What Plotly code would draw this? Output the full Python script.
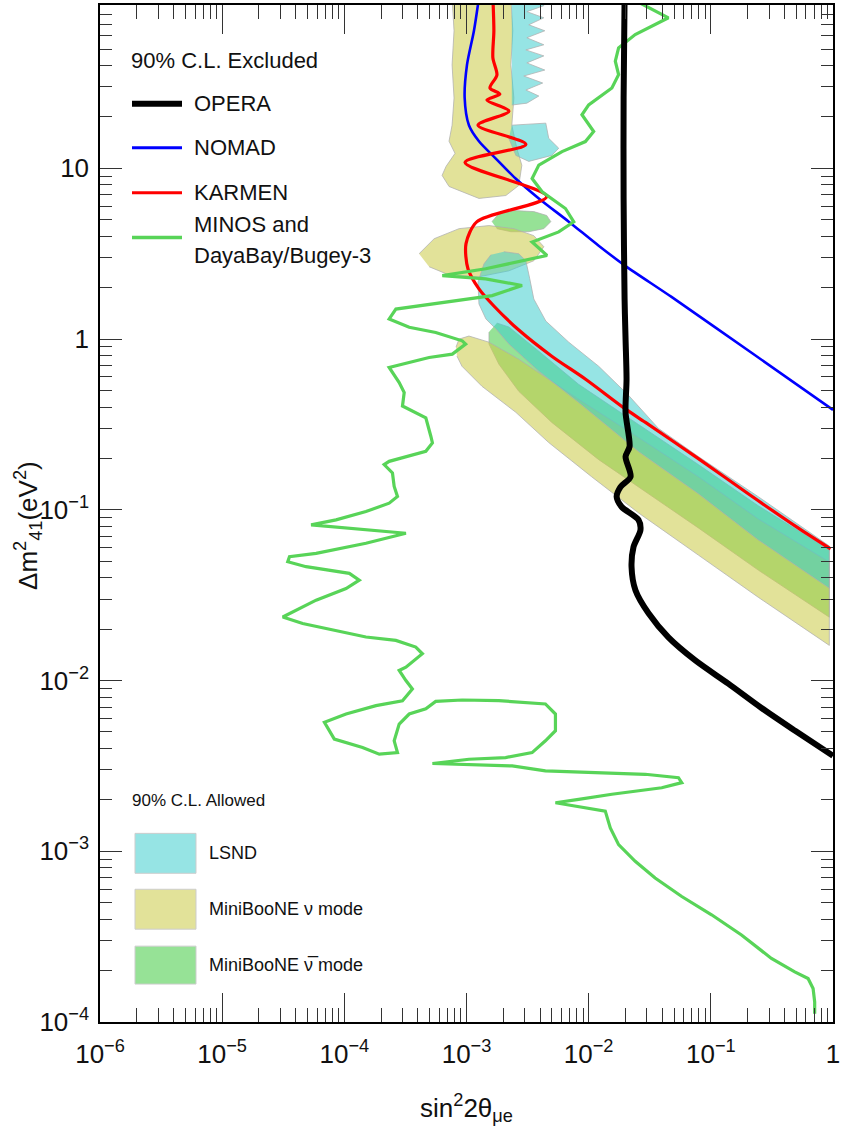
import numpy as np
import plotly.graph_objects as go

FONT = "Liberation Sans, Arial, Helvetica, sans-serif"

# ---------------- axis ticks ----------------
x_tick_vals = [1e-6, 1e-5, 1e-4, 1e-3, 1e-2, 1e-1, 1]
x_tick_text = ["10<sup>−6</sup>", "10<sup>−5</sup>", "10<sup>−4</sup>", "10<sup>−3</sup>",
               "10<sup>−2</sup>", "10<sup>−1</sup>", "1"]
y_tick_vals = [1e-4, 1e-3, 1e-2, 1e-1, 1, 10]
y_tick_text = ["10<sup>−4</sup>", "10<sup>−3</sup>", "10<sup>−2</sup>", "10<sup>−1</sup>", "1", "10"]
x_minor_vals = [d * m for d in [1e-6, 1e-5, 1e-4, 1e-3, 1e-2, 1e-1] for m in range(2, 10)]
y_minor_vals = [d * m for d in [1e-4, 1e-3, 1e-2, 1e-1, 1, 10] for m in range(2, 10)]

# ---------------- data: log10(sin^2 2theta), log10(dm^2 / eV^2) ----------------
# OPERA 90% CL exclusion
opera_lx = [-1.706, -1.714, -1.714, -1.706, -1.698, -1.690, -1.698, -1.665, -1.698, -1.657,
            -1.739, -1.771, -1.731, -1.592, -1.576, -1.633, -1.649, -1.617, -1.510, -1.347,
            -1.127, -0.857, -0.588, -0.310, 0.0]
opera_ly = [2.0, 1.412, 0.824, 0.235, 0.0, -0.235, -0.429, -0.629, -0.688, -0.806,
            -0.865, -0.923, -0.982, -1.059, -1.118, -1.218, -1.335, -1.471, -1.606, -1.747,
            -1.882, -2.018, -2.159, -2.294, -2.441]

# NOMAD
nomad_lx = [-2.898, -2.939, -2.996, -3.015, -2.980, -2.898, -2.762, -2.598, -2.408, -2.163,
            -1.918, -1.700, -1.322, -0.661, 0.0]
nomad_ly = [2.0, 1.806, 1.606, 1.412, 1.253, 1.159, 1.059, 0.941, 0.824, 0.688,
            0.547, 0.429, 0.247, -0.083, -0.415]

# KARMEN
karmen_lx = [-2.784, -2.776, -2.784, -2.751, -2.808, -2.727, -2.833, -2.653, -2.906, -2.514,
             -3.012, -2.343, -2.914, -3.004, -2.988, -2.898, -2.776, -2.572, -2.302, -2.025,
             -1.706, -1.535, -1.102, -0.694, -0.286, -0.02]
karmen_ly = [2.0, 1.806, 1.647, 1.547, 1.471, 1.435, 1.400, 1.335, 1.253, 1.141,
             1.035, 0.835, 0.688, 0.559, 0.412, 0.294, 0.194, 0.053, -0.100, -0.235,
             -0.406, -0.488, -0.700, -0.906, -1.106, -1.229]

# MINOS and DayaBay/Bugey-3
minos_lx = [-1.665, -1.347, -1.619, -1.755, -1.782, -1.755, -1.810, -2.000, -2.055, -2.000,
            -1.959, -2.027, -2.218, -2.408, -2.463, -2.381, -2.190, -2.122, -2.245, -2.463,
            -2.341, -2.843, -3.198, -2.843, -2.545, -2.790, -3.279, -3.578, -3.633, -3.469,
            -3.252, -3.035, -3.007, -3.116, -3.306, -3.633, -3.551, -3.510, -3.524, -3.333,
            -3.292, -3.279, -3.333, -3.633, -3.674, -3.606, -3.592, -3.565, -3.633, -3.823,
            -4.068, -4.272, -3.496, -3.823, -4.231, -4.449, -4.463, -4.313, -3.959, -3.878,
            -3.986, -4.231, -4.504, -4.341, -3.823, -3.578, -3.415, -3.361, -3.496, -3.551,
            -3.496, -3.443, -3.524, -3.741, -3.986, -4.163, -4.082, -3.851, -3.714, -3.565,
            -3.592, -3.551, -3.469, -3.333, -3.252, -3.035, -2.735, -2.354, -2.272, -2.272,
            -2.354, -2.463, -2.680, -2.980, -3.279, -2.626, -2.354, -1.537, -1.265, -1.238,
            -1.402, -1.810, -2.082, -2.272, -2.163, -1.864, -1.823, -1.755, -1.619, -1.456,
            -1.238, -0.994, -0.749, -0.504, -0.313, -0.204, -0.163, -0.150, -0.150]
minos_ly = [2.0, 1.882, 1.784, 1.706, 1.628, 1.549, 1.471, 1.372, 1.314, 1.255,
            1.216, 1.157, 1.098, 1.019, 0.941, 0.863, 0.765, 0.687, 0.628, 0.569,
            0.490, 0.412, 0.372, 0.353, 0.314, 0.255, 0.206, 0.176, 0.118, 0.069,
            0.039, -0.010, -0.029, -0.088, -0.108, -0.166, -0.255, -0.313, -0.392, -0.461,
            -0.569, -0.608, -0.657, -0.716, -0.735, -0.784, -0.863, -0.922, -0.961, -1.010,
            -1.059, -1.088, -1.137, -1.196, -1.255, -1.275, -1.304, -1.333, -1.372, -1.412,
            -1.461, -1.529, -1.628, -1.666, -1.745, -1.765, -1.804, -1.843, -1.922, -1.941,
            -2.000, -2.049, -2.118, -2.147, -2.196, -2.245, -2.343, -2.392, -2.431, -2.422,
            -2.353, -2.255, -2.196, -2.166, -2.122, -2.114, -2.118, -2.137, -2.196, -2.294,
            -2.353, -2.422, -2.451, -2.461, -2.486, -2.500, -2.529, -2.549, -2.569, -2.598,
            -2.628, -2.666, -2.696, -2.716, -2.729, -2.765, -2.863, -2.961, -3.059, -3.157,
            -3.265, -3.372, -3.490, -3.628, -3.706, -3.745, -3.804, -3.882, -3.951]

# MiniBooNE nu mode allowed regions
mbnu_band_lx = [-3.086, -3.061, -2.980, -2.816, -2.572, -2.082, -1.592, -1.102, -0.612, -0.03,
                -0.03, -0.612, -1.102, -1.592, -1.976, -2.327, -2.596, -2.874, -3.037, -3.078]
mbnu_band_ly = [-0.047, 0.000, 0.018, -0.018, -0.118, -0.353, -0.576, -0.806, -1.053, -1.306,
                -1.794, -1.512, -1.265, -1.018, -0.806, -0.606, -0.429, -0.276, -0.159, -0.100]
mbnu_top_lx = [-3.118, -3.102, -3.118, -3.102, -3.118, -3.143, -3.094, -3.167, -3.200, -3.143,
               -2.898, -2.678, -2.572, -2.547, -2.588, -2.629, -2.612, -2.637, -2.621, -2.637]
mbnu_top_ly = [2.0, 1.806, 1.606, 1.412, 1.253, 1.159, 1.088, 1.012, 0.959, 0.894,
               0.824, 0.841, 0.900, 1.018, 1.118, 1.253, 1.412, 1.606, 1.806, 2.0]
mbnu_lobe_lx = [-3.388, -3.265, -3.061, -2.816, -2.612, -2.449, -2.367, -2.449, -2.653, -2.898,
                -3.143, -3.306]
mbnu_lobe_ly = [0.500, 0.588, 0.647, 0.665, 0.647, 0.606, 0.541, 0.459, 0.400, 0.365,
                0.376, 0.424]

# MiniBooNE anti-nu mode allowed regions
mbnubar_band_lx = [-2.751, -2.653, -2.408, -2.082, -1.592, -1.102, -0.612, -0.03, -0.03, -0.612,
                   -1.102, -1.592, -1.918, -2.302, -2.572, -2.735, -2.816, -2.816]
mbnubar_band_ly = [0.094, 0.071, -0.071, -0.265, -0.500, -0.735, -0.976, -1.235, -1.629, -1.353,
                   -1.106, -0.865, -0.706, -0.488, -0.306, -0.147, -0.029, 0.041]
mbnubar_isl_lx = [-2.792, -2.735, -2.612, -2.449, -2.343, -2.310, -2.367, -2.490, -2.637, -2.751]
mbnubar_isl_ly = [0.688, 0.735, 0.753, 0.747, 0.724, 0.688, 0.647, 0.629, 0.629, 0.647]

# LSND allowed regions
lsnd_band_lx = [-2.800, -2.857, -2.906, -2.898, -2.841, -2.759, -2.653, -2.408, -2.082, -1.592,
                -1.102, -0.612, -0.03, -0.03, -0.612, -1.102, -1.429, -1.674, -1.918, -2.163,
                -2.351, -2.449, -2.482, -2.514, -2.572, -2.694]
lsnd_band_ly = [0.494, 0.441, 0.335, 0.206, 0.118, 0.059, -0.029, -0.188, -0.371, -0.659,
                -0.906, -1.176, -1.459, -1.212, -0.923, -0.688, -0.523, -0.329, -0.159, -0.018,
                0.106, 0.235, 0.353, 0.459, 0.500, 0.512]
lsnd_mid_lx = [-2.629, -2.351, -2.327, -2.245, -2.302, -2.490, -2.596, -2.653]
lsnd_mid_ly = [1.253, 1.265, 1.176, 1.118, 1.076, 1.041, 1.076, 1.176]
lsnd_top_lx = [-2.629, -2.408, -2.367, -2.506, -2.367, -2.490, -2.359, -2.506, -2.367, -2.514,
               -2.367, -2.506, -2.359, -2.531, -2.376, -2.514, -2.408, -2.506, -2.629]
lsnd_top_ly = [2.0, 2.0, 1.953, 1.918, 1.882, 1.841, 1.806, 1.765, 1.724, 1.694,
               1.659, 1.618, 1.576, 1.541, 1.500, 1.459, 1.424, 1.382, 1.371]

# ---------------- styles ----------------
C_NUBAR = "rgb(150,226,150)"
C_NU = "rgba(203,203,73,0.56)"
C_LSND = "rgba(61,205,205,0.54)"
OUTLINE = "rgba(175,175,175,0.75)"
C_GREEN = "rgb(88,212,88)"


def p(v):
    return 10 ** np.array(v, dtype=float)


fig = go.Figure()


def region(lx, ly, color):
    fig.add_trace(go.Scatter(x=p(lx), y=p(ly), mode="lines", fill="toself",
                             fillcolor=color, line=dict(color=OUTLINE, width=1),
                             hoverinfo="skip", showlegend=False))


region(mbnubar_band_lx, mbnubar_band_ly, C_NUBAR)
region(mbnubar_isl_lx, mbnubar_isl_ly, C_NUBAR)
region(mbnu_band_lx, mbnu_band_ly, C_NU)
region(mbnu_top_lx, mbnu_top_ly, C_NU)
region(mbnu_lobe_lx, mbnu_lobe_ly, C_NU)
region(lsnd_band_lx, lsnd_band_ly, C_LSND)
region(lsnd_mid_lx, lsnd_mid_ly, C_LSND)
region(lsnd_top_lx, lsnd_top_ly, C_LSND)


def curve(lx, ly, color, width, shape="linear"):
    fig.add_trace(go.Scatter(x=p(lx), y=p(ly), mode="lines",
                             line=dict(color=color, width=width, shape=shape,
                                       smoothing=0.8 if shape == "spline" else None),
                             hoverinfo="skip", showlegend=False))


curve(nomad_lx, nomad_ly, "#0000ff", 2.6, "spline")
curve(karmen_lx, karmen_ly, "#ff0000", 3.2, "spline")
curve(minos_lx, minos_ly, C_GREEN, 3.2)
curve(opera_lx, opera_ly, "#000000", 6, "spline")

# ---------------- layout ----------------
L, R, T, B = 100, 833, 3, 1022
W, H = 843, 1133


def px(xp):
    return (xp - L) / (R - L)


def py(yp):
    return (B - yp) / (B - T)


shapes = []
annotations = []

annotations.append(dict(x=px(129), y=py(59), xref="paper", yref="paper", text="90% C.L. Excluded",
                        showarrow=False, xanchor="left", yanchor="middle",
                        font=dict(family=FONT, size=22, color="#111")))
excl_items = [("OPERA", "#000000", 6, 102), ("NOMAD", "#0000ff", 3, 146),
              ("KARMEN", "#ff0000", 3, 191), ("", C_GREEN, 3.5, 236)]
for name, col, wd, yy in excl_items:
    shapes.append(dict(type="line", xref="paper", yref="paper", x0=px(132), x1=px(182),
                       y0=py(yy), y1=py(yy), line=dict(color=col, width=wd)))
    if name:
        annotations.append(dict(x=px(192), y=py(yy), xref="paper", yref="paper", text=name,
                                showarrow=False, xanchor="left", yanchor="middle",
                                font=dict(family=FONT, size=22, color="#111")))
annotations.append(dict(x=px(192), y=py(223), xref="paper", yref="paper", text="MINOS and",
                        showarrow=False, xanchor="left", yanchor="middle",
                        font=dict(family=FONT, size=22, color="#111")))
annotations.append(dict(x=px(192), y=py(254), xref="paper", yref="paper", text="DayaBay/Bugey-3",
                        showarrow=False, xanchor="left", yanchor="middle",
                        font=dict(family=FONT, size=22, color="#111")))

annotations.append(dict(x=px(130), y=py(800), xref="paper", yref="paper", text="90% C.L. Allowed",
                        showarrow=False, xanchor="left", yanchor="middle",
                        font=dict(family=FONT, size=17, color="#111")))
allowed_items = [("LSND", "rgb(150,228,228)", 833, 873),
                 ("MiniBooNE ν mode", "rgb(226,226,153)", 889, 929),
                 ("MiniBooNE ν\u0305 mode", "rgb(150,226,150)", 946, 984)]
for name, col, y0, y1 in allowed_items:
    shapes.append(dict(type="rect", xref="paper", yref="paper", x0=px(135), x1=px(196),
                       y0=py(y1), y1=py(y0), fillcolor=col,
                       line=dict(color="rgb(205,205,205)", width=1)))
    annotations.append(dict(x=px(207), y=py((y0 + y1) / 2), xref="paper", yref="paper", text=name,
                            showarrow=False, xanchor="left", yanchor="middle",
                            font=dict(family=FONT, size=18, color="#111")))

# axis titles
annotations.append(dict(x=0.5, y=py(1108), xref="paper", yref="paper",
                        text="sin<sup>2</sup>2θ<sub>μe</sub>", showarrow=False,
                        xanchor="center", yanchor="middle",
                        font=dict(family=FONT, size=26, color="#111")))
annotations.append(dict(x=px(28), y=py(525), xref="paper", yref="paper",
                        text="Δm<sup>2</sup><sub>41</sub>(eV<sup>2</sup>)", showarrow=False,
                        textangle=-90, xanchor="center", yanchor="middle",
                        font=dict(family=FONT, size=26, color="#111")))

axis_common = dict(type="log", ticks="inside", tickwidth=1, tickcolor="#333",
                   showline=True, linecolor="black", linewidth=1.5, mirror="ticks",
                   showgrid=False, zeroline=False,
                   tickfont=dict(family=FONT, size=26, color="#111"))

fig.update_layout(
    width=W, height=H, autosize=False,
    margin=dict(l=L, r=W - R, t=T, b=H - B, pad=0),
    paper_bgcolor="white", plot_bgcolor="white",
    showlegend=False,
    xaxis=dict(range=[-6, 0], tickmode="array", tickvals=x_tick_vals, ticktext=x_tick_text,
               ticklen=29, ticklabelstandoff=8,
               minor=dict(tickmode="array", tickvals=x_minor_vals, ticks="inside", ticklen=14,
                          tickwidth=1, tickcolor="#333", showgrid=False),
               **axis_common),
    yaxis=dict(range=[-4, 1.957], tickmode="array", tickvals=y_tick_vals, ticktext=y_tick_text,
               ticklen=22, ticklabelstandoff=4,
               minor=dict(tickmode="array", tickvals=y_minor_vals, ticks="inside", ticklen=12,
                          tickwidth=1, tickcolor="#333", showgrid=False),
               **axis_common),
    shapes=shapes,
    annotations=annotations,
)

fig.write_html("out.html", config={"displayModeBar": False},
               post_script="document.body.style.margin='0px';document.body.style.padding='0px';")
